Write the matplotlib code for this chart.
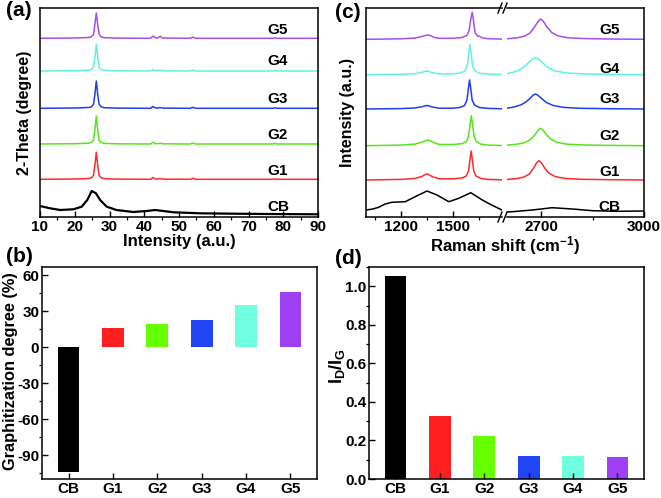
import numpy as np
import matplotlib.pyplot as plt
from matplotlib.ticker import MultipleLocator, FixedLocator

plt.rcParams["font.family"] = ["Liberation Sans", "DejaVu Sans"]
plt.rcParams["font.weight"] = "bold"
plt.rcParams["axes.labelweight"] = "bold"
plt.rcParams["axes.linewidth"] = 1.1
plt.rcParams["axes.unicode_minus"] = False
plt.rcParams["mathtext.default"] = "regular"

SAMPLES = ["CB", "G1", "G2", "G3", "G4", "G5"]
LINE_COLORS = ["black", "#ff2a2a", "#55e61a", "#1e3ff0", "#5ff2e0", "#a64df2"]
BAR_COLORS = ["black", "#ff1f1f", "#66ff00", "#1f45f5", "#70ffe0", "#a040f5"]

xrd_cb_theta = [10, 12.9, 15.8, 19.6, 22, 23.6, 24.9, 26.1, 27.3, 29.2, 32, 36.8, 40.7,
                43.1, 45.5, 48.4, 56, 65.6, 75.2, 90]
xrd_cb = [11, 8.7, 7, 7.7, 10.3, 17, 26, 23.7, 17, 10.3, 7, 5, 6, 7, 6, 4.7, 3.7, 3.3, 3, 2.7]

xrd_theta = [10, 20, 24, 24.8, 25.4, 25.8, 26.2, 26.6, 27.0, 27.6, 28.5, 32, 41.8, 42.5, 43.2,
             44.0, 44.6, 45.2, 53.2, 54.0, 54.8, 77.0, 77.6, 78.2, 90]
xrd_g1 = [0, 0.3, 0.8, 1.5, 4, 14, 27, 14, 4, 1.5, 0.6, 0.2, 0, 1.8, 0.3, 0.3, 0.8, 0.2, 0, 1, 0, 0, 0.5, 0, 0]
xrd_g2 = [0, 0.3, 0.8, 1.5, 4, 14, 28, 14, 4, 1.5, 0.6, 0.2, 0, 1.8, 0.3, 0.3, 0.8, 0.2, 0, 1, 0, 0, 0.5, 0, 0]
xrd_g3 = [0, 0.3, 0.8, 1.5, 4, 14, 27.3, 14, 4, 1.5, 0.6, 0.2, 0, 1.8, 0.3, 0.3, 0.8, 0.2, 0, 1, 0, 0, 0.5, 0, 0]
xrd_g4 = [0, 0.3, 0.8, 1.5, 4, 14, 26.7, 14, 4, 1.5, 0.6, 0.2, 0, 1.5, 0.3, 0.3, 1.0, 0.2, 0, 1, 0, 0, 0.5, 0, 0]
xrd_g5 = [0, 0.3, 0.8, 1.5, 4, 14, 25.3, 14, 4, 1.5, 0.6, 0.2, 0, 2.2, 0.5, 0.5, 2.0, 0.3, 0, 1.2, 0, 0, 0.5, 0, 0]
xrd_offsets = [0, 37.7, 73, 108.7, 146, 178.7]

# (c) Raman, linkes Segment (D- und G-Bande) und rechtes Segment (2D-Bande)
raman_cb_left_x = [1000, 1040, 1072, 1110, 1148, 1225, 1290, 1350, 1407, 1475, 1532, 1601, 1667, 1720, 1780]
raman_cb_left = [7, 8, 9.7, 13, 14.7, 15.3, 21, 26, 22, 15.3, 18.7, 24.3, 17, 12, 7]
raman_cb_right_x = [2600, 2615, 2674, 2732, 2791, 2850, 2919, 3000]
raman_cb_right = [5, 5.3, 7, 9.3, 8, 6.3, 5.7, 6]

raman_g1_left_x = [1000, 1100, 1200, 1280, 1320, 1340, 1352, 1364, 1385, 1420, 1500, 1550, 1575,
                   1588, 1596, 1603, 1610, 1618, 1631, 1660, 1700, 1780]
raman_g1_left = [0, 0.3, 0.6, 1.5, 3.5, 5.5, 6, 5, 3, 1.2, 1.2, 2, 4, 9, 20, 29, 20, 9, 4, 1.5, 0.6, 0.2]
raman_g2_left_x = [1000, 1100, 1200, 1280, 1320, 1342, 1355, 1368, 1390, 1420, 1500, 1550, 1575,
                   1588, 1596, 1604, 1612, 1620, 1633, 1660, 1700, 1780]
raman_g2_left = [0, 0.3, 0.6, 1.5, 3.5, 5, 5.7, 4.8, 3, 1.2, 1.2, 2, 4, 9, 20, 30, 20, 9, 4, 1.5, 0.6, 0.2]
raman_g3_left_x = [1000, 1100, 1200, 1280, 1320, 1340, 1350, 1362, 1385, 1420, 1500, 1540, 1565,
                   1579, 1587, 1594, 1601, 1609, 1622, 1650, 1700, 1780]
raman_g3_left = [0, 0.2, 0.4, 1, 2.2, 3.2, 3.5, 3, 1.8, 0.8, 0.8, 1.6, 3.5, 9, 20, 29, 20, 9, 4, 1.5, 0.6, 0.2]
raman_g4_left_x = [1000, 1100, 1200, 1280, 1320, 1340, 1350, 1362, 1385, 1420, 1500, 1540, 1567,
                   1581, 1589, 1596, 1603, 1611, 1624, 1650, 1700, 1780]
raman_g4_left = [0, 0.2, 0.4, 1, 2.3, 3.4, 3.7, 3.1, 1.8, 0.8, 0.8, 1.6, 3.5, 9, 21, 30.4, 21, 9, 4, 1.5, 0.6, 0.2]
raman_g5_left_x = [1000, 1100, 1200, 1280, 1320, 1345, 1357, 1370, 1390, 1420, 1500, 1550, 1578,
                   1592, 1600, 1609, 1617, 1625, 1638, 1650, 1665, 1700, 1780]
raman_g5_left = [0, 0.2, 0.5, 1.2, 2.8, 4, 4.3, 3.6, 2, 1, 1, 1.8, 3.8, 9, 19, 27, 18, 7, 3.5, 3, 1.5, 0.6, 0.2]

raman_g1_right_x = [2600, 2630, 2650, 2665, 2678, 2686, 2693, 2700, 2710, 2722, 2740, 2770, 2820, 2900, 3000]
raman_g1_right = [0.5, 1.5, 3, 6, 12, 17, 19.3, 17.5, 12, 7, 3.5, 1.5, 0.7, 0.3, 0]
raman_g2_right_x = [2600, 2630, 2650, 2668, 2682, 2691, 2698, 2705, 2715, 2728, 2746, 2776, 2826, 2900, 3000]
raman_g2_right = [0.5, 1.5, 3, 6, 11, 15.5, 17.4, 15.8, 11, 6.5, 3.3, 1.5, 0.7, 0.3, 0]
raman_g3_right_x = [2600, 2620, 2640, 2655, 2667, 2676, 2683, 2690, 2701, 2715, 2735, 2765, 2815, 2900, 3000]
raman_g3_right = [0.8, 2, 4, 7, 10.5, 13.8, 15, 13.8, 10.5, 6.5, 3.5, 1.6, 0.7, 0.3, 0]
raman_g4_right_x = [2600, 2620, 2638, 2652, 2664, 2674, 2683, 2692, 2704, 2718, 2738, 2770, 2820, 2900, 3000]
raman_g4_right = [1, 2.5, 5, 8.5, 12.5, 15.8, 17, 15.8, 12, 7.5, 4, 1.8, 0.8, 0.3, 0]
raman_g5_right_x = [2600, 2630, 2650, 2666, 2680, 2690, 2698, 2706, 2717, 2730, 2748, 2778, 2828, 2900, 3000]
raman_g5_right = [0.5, 1.5, 3, 6, 12, 17.5, 20.3, 18, 12, 7, 3.5, 1.5, 0.7, 0.3, 0]
raman_offsets = [0, 37, 71.3, 108, 142.3, 177.7]

# (b) Graphitisierungsgrad und (d) I_D/I_G
graphitization = [-104, 16.1, 19.7, 23, 35.3, 46.1]
id_ig = [1.055, 0.325, 0.222, 0.118, 0.118, 0.112]

fig = plt.figure(figsize=(6.61, 4.98), dpi=100)
W, H = 661, 498


def box(left, top, right, bottom):
    return [left / W, 1 - bottom / H, (right - left) / W, (bottom - top) / H]


def fig_text(x, y, s, **kw):
    # Position in Pixeln (oben links = 0, 0)
    fig.text(x / W, 1 - y / H, s, ha="center", va="center", fontweight="bold", **kw)


def style_ticks(ax):
    ax.tick_params(direction="in", labelsize=11, width=1.0, pad=2)
    ax.tick_params(which="major", length=4)
    ax.tick_params(which="minor", length=2.5, width=0.9)


# ---------- (a) ----------
ax_a = fig.add_axes(box(40, 8, 318, 217))
ax_a.plot(xrd_cb_theta, xrd_cb, color=LINE_COLORS[0], lw=1.6)
for i, ys in enumerate([xrd_g1, xrd_g2, xrd_g3, xrd_g4, xrd_g5], start=1):
    ax_a.plot(xrd_theta, np.array(ys) + xrd_offsets[i], color=LINE_COLORS[i], lw=1.1)
label_y_a = [10, 46, 82, 118, 156, 187]
for name, y in zip(SAMPLES, label_y_a):
    ax_a.text(78.5, y, name, ha="center", va="center", fontsize=11, fontweight="bold")
ax_a.set_xlim(10, 90)
ax_a.set_ylim(0, 209)
ax_a.set_yticks([])
ax_a.xaxis.set_major_locator(MultipleLocator(10))
ax_a.xaxis.set_minor_locator(MultipleLocator(5))
style_ticks(ax_a)
ax_a.set_xlabel("Intensity (a.u.)", fontsize=12, labelpad=0)
ax_a.set_ylabel("2-Theta (degree)", fontsize=11.5, labelpad=6)

# ---------- (c) ----------
ax_c1 = fig.add_axes(box(366, 8, 502, 217))
ax_c2 = fig.add_axes(box(507, 8, 644, 217))
ax_c1.plot(raman_cb_left_x, raman_cb_left, color="black", lw=1.1)
ax_c2.plot(raman_cb_right_x, raman_cb_right, color="black", lw=1.1)
lefts = [raman_g1_left, raman_g2_left, raman_g3_left, raman_g4_left, raman_g5_left]
lefts_x = [raman_g1_left_x, raman_g2_left_x, raman_g3_left_x, raman_g4_left_x, raman_g5_left_x]
rights = [raman_g1_right, raman_g2_right, raman_g3_right, raman_g4_right, raman_g5_right]
rights_x = [raman_g1_right_x, raman_g2_right_x, raman_g3_right_x, raman_g4_right_x, raman_g5_right_x]
for i in range(5):
    off = raman_offsets[i + 1]
    ax_c1.plot(lefts_x[i], np.array(lefts[i]) + off, color=LINE_COLORS[i + 1], lw=1.1)
    ax_c2.plot(rights_x[i], np.array(rights[i]) + off, color=LINE_COLORS[i + 1], lw=1.1)
label_y_c = [10, 45, 81, 118, 148, 187]
for name, y in zip(SAMPLES, label_y_c):
    ax_c2.text(2900, y, name, ha="center", va="center", fontsize=11, fontweight="bold")

ax_c1.set_xlim(1000, 1780)
ax_c2.set_xlim(2600, 3000)
for ax in (ax_c1, ax_c2):
    ax.set_ylim(0, 209)
    ax.set_yticks([])
ax_c1.spines["right"].set_visible(False)
ax_c2.spines["left"].set_visible(False)
ax_c1.xaxis.set_major_locator(FixedLocator([1200, 1500]))
ax_c1.xaxis.set_minor_locator(FixedLocator([1050, 1350, 1650]))
ax_c2.xaxis.set_major_locator(FixedLocator([2700, 3000]))
ax_c2.xaxis.set_minor_locator(FixedLocator([2850]))
style_ticks(ax_c1)
style_ticks(ax_c2)
ax_c1.set_ylabel("Intensity (a.u.)", fontsize=11.5, labelpad=8)
fig_text(505, 246, "Raman shift (cm$^{-1}$)", fontsize=12)

# Achsenbruch-Markierungen
for yb in (8, 217):
    for xb in (500, 505):
        fig.add_artist(plt.Line2D([(xb - 2) / W, (xb + 2) / W], [1 - (yb + 5) / H, 1 - (yb - 5) / H],
                                  color="black", lw=1.0))

# ---------- (b) ----------
pos = np.arange(1, len(SAMPLES) + 1)
ax_b = fig.add_axes(box(42, 267, 317, 479))
ax_b.bar(pos, graphitization, width=0.49, color=BAR_COLORS)
ax_b.set_xlim(0.4, 6.6)
ax_b.set_ylim(-110, 67)
ax_b.set_xticks(pos)
ax_b.set_xticklabels(SAMPLES, fontsize=12.5)
ax_b.yaxis.set_major_locator(MultipleLocator(30))
ax_b.yaxis.set_minor_locator(MultipleLocator(15))
style_ticks(ax_b)
fig_text(11, 371, "Graphitization degree (%)", fontsize=11.8, rotation=90)

# ---------- (d) ----------
ax_d = fig.add_axes(box(369, 267, 644, 479))
ax_d.bar(pos, id_ig, width=0.49, color=BAR_COLORS)
ax_d.set_xlim(0.4, 6.6)
ax_d.set_ylim(0, 1.1)
ax_d.set_xticks(pos)
ax_d.set_xticklabels(SAMPLES, fontsize=12.5)
ax_d.yaxis.set_major_locator(MultipleLocator(0.2))
ax_d.yaxis.set_minor_locator(MultipleLocator(0.1))
ax_d.yaxis.set_major_formatter(plt.FormatStrFormatter("%.1f"))
style_ticks(ax_d)
fig_text(337, 366, "I$_D$/I$_G$", fontsize=13, rotation=90)

for label, x, y in [("(a)", 19, 11), ("(b)", 19, 257), ("(c)", 348, 12), ("(d)", 348, 258)]:
    fig_text(x, y, label, fontsize=15)

fig.savefig("out.png", dpi=100)
